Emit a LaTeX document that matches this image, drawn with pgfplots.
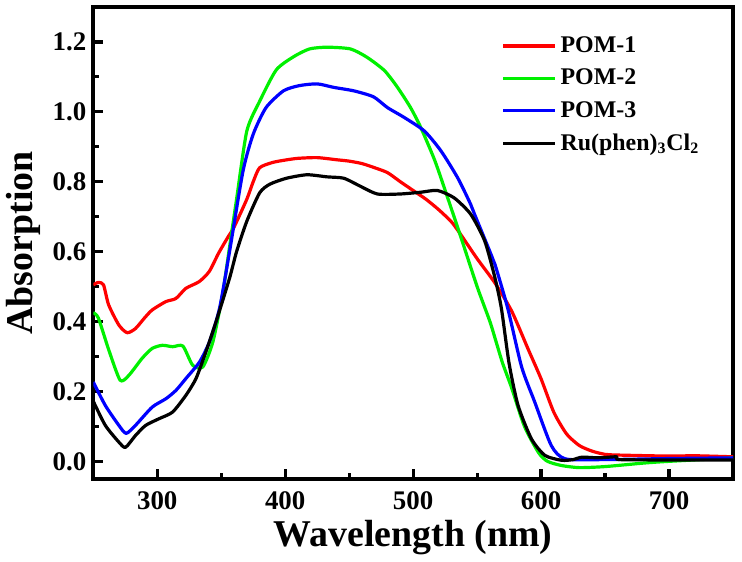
\documentclass[border=0pt]{standalone}
\usepackage{pgfplots}
\pgfplotsset{compat=1.18}
\usepackage{fontspec}
\setmainfont{Liberation Serif}
\definecolor{cred}{RGB}{255,0,0}
\definecolor{cgreen}{RGB}{0,240,0}
\definecolor{cblue}{RGB}{0,0,255}
\begin{document}
\begin{tikzpicture}
\begin{axis}[
  scale only axis, width=320bp, height=236bp,
  xmin=250, xmax=750, ymin=-0.05, ymax=1.3,
  axis line style={line width=2bp},
  xtick={300,400,...,700}, minor xtick={350,450,...,750},
  ytick={0,0.2,...,1.2}, minor ytick={0.1,0.3,...,1.1},
  xtick pos=bottom, ytick pos=left, tick align=inside,
  major tick length=5bp, minor tick length=3bp,
  every tick/.style={black, line width=1.6bp},
  /pgf/number format/assume math mode=true,
  yticklabel style={/pgf/number format/fixed, /pgf/number format/fixed zerofill, /pgf/number format/precision=1},
  ticklabel style={font=\bfseries\fontsize{13.5}{15}\selectfont},
  xticklabel style={yshift=-3bp},
  xlabel={Wavelength (nm)}, ylabel={Absorption},
  label style={font=\bfseries\fontsize{19}{22}\selectfont},
  xlabel style={yshift=1.5bp},
  ylabel style={yshift=-1bp},
  legend style={at={(0.628,0.955)}, anchor=north west, draw=none, fill=none,
    font=\bfseries\fontsize{12}{14}\selectfont, row sep=2.8bp},
  legend cell align=left,
  legend image code/.code={\draw[#1] (0bp,0bp) -- (26bp,0bp);},
  every axis plot/.append style={line width=1.6bp, line join=round},
]
\addplot[cred, smooth, tension=0.4] coordinates {
(250,0.505)(254,0.512)(258,0.505)(262,0.448)(270,0.39)(276.5,0.368)(283,0.38)(290,0.41)(296,0.433)(306.7,0.457)(314.6,0.466)(322.4,0.495)(332.7,0.514)(340.6,0.543)(348,0.596)(355,0.64)(360,0.67)(370,0.75)(375,0.80)(380,0.84)(390,0.855)(400,0.862)(410,0.867)(425,0.869)(440,0.863)(450,0.859)(460,0.852)(470,0.84)(480,0.826)(490,0.80)(500,0.775)(510,0.75)(520,0.72)(530,0.685)(537,0.65)(550,0.58)(564,0.51)(577,0.43)(590,0.32)(600,0.236)(610,0.14)(620,0.078)(630,0.045)(640,0.029)(650,0.02)(660,0.018)(700,0.015)(720,0.016)(750,0.013)};
\addlegendentry{POM-1}
\addplot[cgreen, smooth, tension=0.4] coordinates {
(250,0.425)(254,0.41)(262,0.32)(271,0.232)(277.8,0.246)(288,0.294)(296,0.323)(304,0.332)(312,0.328)(320,0.33)(327.7,0.275)(335.6,0.27)(343.5,0.342)(351,0.477)(356,0.60)(362,0.75)(370,0.945)(380,1.03)(393,1.12)(406.7,1.158)(419,1.18)(432.7,1.185)(451,1.18)(464,1.156)(477.6,1.118)(487.8,1.07)(498,1.012)(506,0.955)(517,0.86)(527,0.754)(537,0.645)(550,0.50)(560,0.40)(565,0.34)(570,0.28)(577,0.21)(587,0.10)(598,0.025)(605,0.0)(616,-0.012)(630,-0.018)(650,-0.015)(680,-0.005)(700,0.0)(750,0.01)};
\addlegendentry{POM-2}
\addplot[cblue, smooth, tension=0.4] coordinates {
(250,0.227)(259.4,0.16)(270,0.103)(275.7,0.08)(283,0.103)(296,0.155)(306.7,0.179)(314.6,0.203)(322.4,0.237)(333,0.284)(340.8,0.342)(348.7,0.438)(356.5,0.60)(367,0.83)(375,0.936)(385,1.012)(398.6,1.06)(411,1.075)(425,1.08)(438,1.07)(453.7,1.06)(469,1.043)(480,1.012)(493,0.984)(508.8,0.945)(521.8,0.888)(535,0.81)(545,0.735)(548,0.707)(560,0.60)(564,0.563)(574,0.437)(584.8,0.27)(595,0.17)(608,0.045)(619,0.007)(650,0.005)(700,0.008)(750,0.01)};
\addlegendentry{POM-3}
\addplot[black, smooth, tension=0.4] coordinates {
(250,0.172)(259.4,0.103)(270,0.055)(275.2,0.04)(283,0.074)(291,0.103)(301.4,0.122)(312,0.141)(322.4,0.189)(330.3,0.237)(338,0.313)(346,0.40)(356.5,0.524)(362,0.60)(370,0.687)(380,0.768)(388,0.793)(401,0.81)(417,0.82)(432.7,0.814)(445.8,0.81)(458.8,0.787)(472,0.765)(490,0.765)(506,0.77)(519,0.775)(532,0.754)(545,0.707)(556,0.63)(564,0.524)(569,0.437)(575,0.28)(582,0.16)(592.5,0.064)(603,0.017)(616,0.003)(625,0.005)(632,0.012)(645,0.01)(659,0.013)(661,0.005)(700,0.004)(750,0.004)};
\addlegendentry{Ru(phen)\textsubscript{3}Cl\textsubscript{2}}
\end{axis}
\path ([shift={(4.5bp,3.5bp)}]current axis.north east);
\end{tikzpicture}
\end{document}
